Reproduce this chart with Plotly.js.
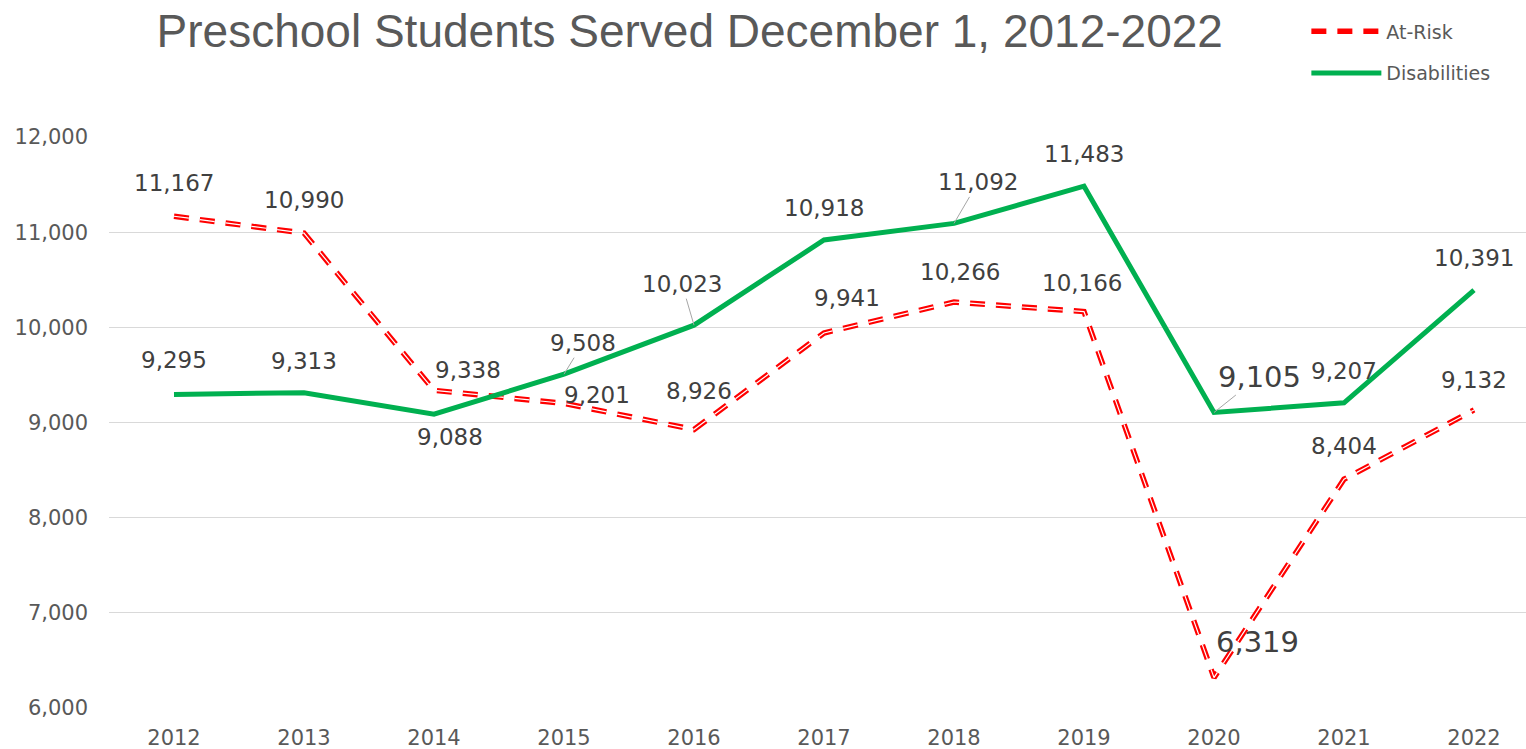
<!DOCTYPE html>
<html>
<head>
<meta charset="utf-8">
<script src="https://cdn.plot.ly/plotly-3.0.1.min.js"></script>
<style>html,body{margin:0;padding:0;background:#fff;}#chart{width:1526px;height:749px;}</style>
</head>
<body>
<div id="chart"></div>
<script>
// ---- data ----
const years = ['2012','2013','2014','2015','2016','2017','2018','2019','2020','2021','2022'];
const atRisk = [11167, 10990, 9338, 9201, 8926, 9941, 10266, 10166, 6319, 8404, 9132];
const disabilities = [9295, 9313, 9088, 9508, 10023, 10918, 11092, 11483, 9105, 9207, 10391];
const yTicks = [6000, 7000, 8000, 9000, 10000, 11000, 12000];
const yTickLabels = ['6,000','7,000','8,000','9,000','10,000','11,000','12,000'];

// ---- label placement (pixel offsets from point) ----
const atRiskOff = [[0,-33],[0,-33],[34,-20],[33,-8],[5,-39],[23,-35],[6,-30],[-2,-29],[43,-36],[0,-33],[0,-30]];
const disOff = [[0,-34],[0,-32],[16,23],[19,-31],[-12,-41],[0,-32],[24,-41],[0,-32],[45,-36],[0,-32],[0,-32]];
const disLeader = [false,false,false,true,true,false,true,false,true,false,false];
const bigIdx = 8;

const fmt = v => String(v).replace(/\B(?=(\d{3})+(?!\d))/g, ',');
const labelFont = 'DejaVu Sans, sans-serif';

const annotations = [];
function addLabels(vals, offs, leaders) {
  vals.forEach((v, i) => {
    const lead = leaders ? leaders[i] : false;
    annotations.push({
      x: i, y: v, xref: 'x', yref: 'y',
      text: fmt(v),
      showarrow: true,
      arrowhead: 0, arrowwidth: 1, standoff: 0,
      arrowcolor: lead ? '#a6a6a6' : 'rgba(255,255,255,0)',
      ax: offs[i][0], ay: offs[i][1],
      font: {family: labelFont, size: i === bigIdx ? 29 : 23, color: '#404040'}
    });
  });
}
addLabels(atRisk, atRiskOff, null);
addLabels(disabilities, disOff, disLeader);

const dashPat = '15px,11px';
const traces = [
  {
    x: years, y: atRisk, type: 'scatter', mode: 'lines', name: 'At-Risk',
    legendgroup: 'a',
    line: {color: '#FF0000', width: 5.5, dash: dashPat}
  },
  {
    x: years, y: atRisk, type: 'scatter', mode: 'lines', name: 'At-Risk',
    legendgroup: 'a', showlegend: false, hoverinfo: 'skip',
    line: {color: '#FFFFFF', width: 1.2, dash: dashPat}
  },
  {
    x: years, y: disabilities, type: 'scatter', mode: 'lines', name: 'Disabilities',
    legendgroup: 'b',
    line: {color: '#00B050', width: 5}
  }
];

const layout = {
  width: 1526, height: 749,
  margin: {l: 109, r: 0, t: 137, b: 41},
  paper_bgcolor: '#fff', plot_bgcolor: '#fff',
  title: {
    text: 'Preschool Students Served December 1, 2012-2022',
    font: {family: 'Liberation Sans, Arial, sans-serif', size: 46, color: '#595959'},
    x: 0.452, xanchor: 'center', xref: 'container',
    y: 0.959, yanchor: 'middle', yref: 'container'
  },
  xaxis: {
    type: 'category',
    range: [-0.5, 10.4],
    showgrid: false, zeroline: false, showline: false,
    ticks: '',
    tickfont: {family: labelFont, size: 21, color: '#595959'},
    ticklabelstandoff: 15,
    fixedrange: true
  },
  yaxis: {
    range: [6000, 12000],
    tickvals: yTicks, ticktext: yTickLabels,
    showgrid: true, gridcolor: '#d9d9d9', gridwidth: 1,
    zeroline: false, showline: false, ticks: '',
    tickfont: {family: labelFont, size: 21, color: '#595959'},
    ticklabelstandoff: 20,
    fixedrange: true
  },
  showlegend: true,
  legend: {
    x: 0.845, xanchor: 'left', xref: 'paper',
    y: 1.218, yanchor: 'top', yref: 'paper',
    font: {family: labelFont, size: 19, color: '#595959'},
    tracegroupgap: 14,
    itemwidth: 70,
    bgcolor: 'rgba(0,0,0,0)'
  },
  annotations: annotations
};

Plotly.newPlot('chart', traces, layout, {displayModeBar: false, staticPlot: true});
</script>
</body>
</html>
